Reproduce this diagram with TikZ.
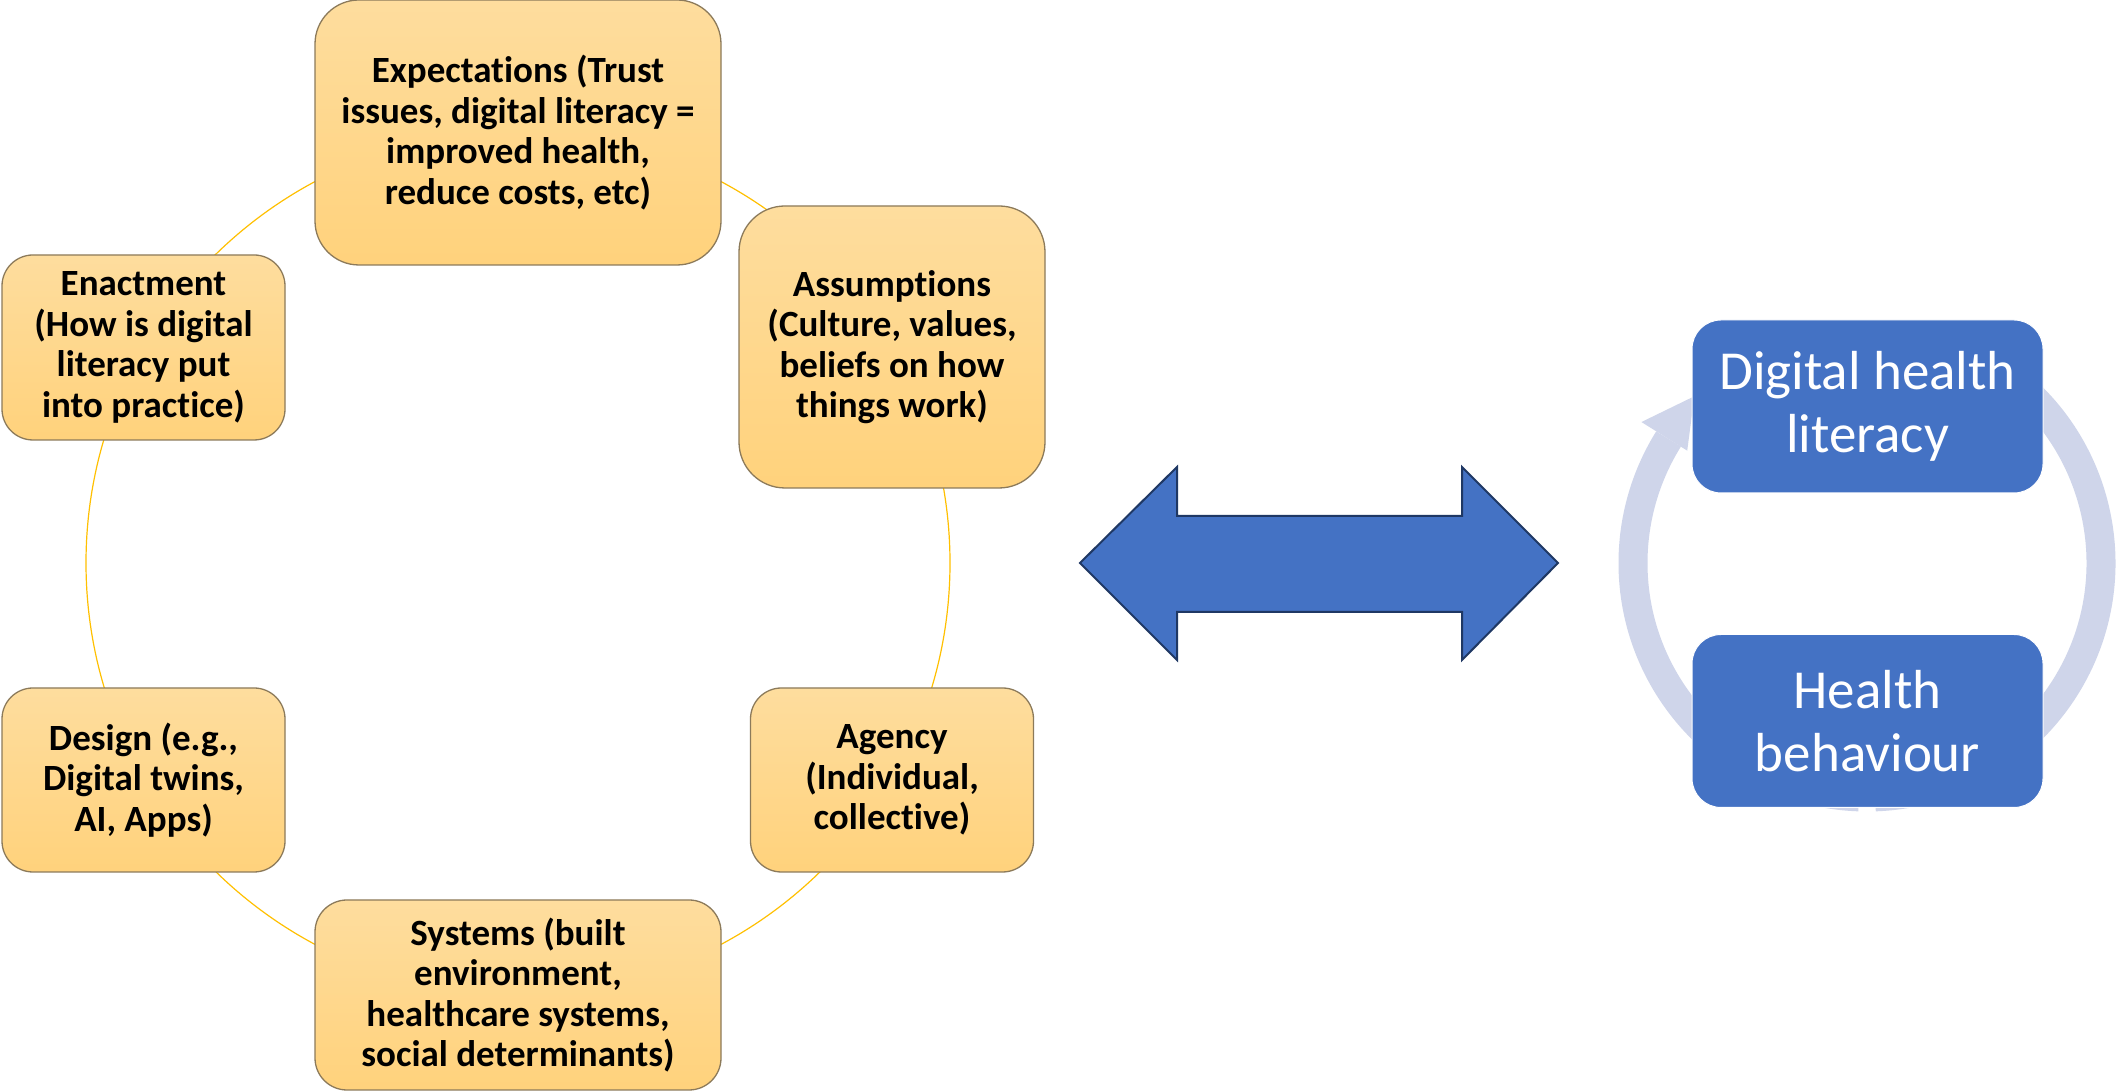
\documentclass[tikz,border=0pt]{standalone}
\usepackage{fontspec}
\setmainfont{Carlito}[Ligatures=NoCommon]
\begin{document}
\begin{tikzpicture}[x=1pt,y=1pt,
  ybox/.style={draw=boxline, line width=1.3pt, top color=ytop, bottom color=ybot,
    align=center, inner sep=0pt, font=\fontsize{37}{40.5}\selectfont\bfseries, text=black},
  bbox/.style={draw=white, line width=1pt, fill=bfill, align=center, inner sep=0pt,
    minimum width=351pt, minimum height=173pt, rounded corners=29pt,
    font=\fontsize{55}{63}\selectfont, text=white},
  ring/.style={draw=ringc, line width=29pt}
]
\definecolor{ytop}{HTML}{FEDD9E}
\definecolor{ybot}{HTML}{FFD27C}
\definecolor{boxline}{HTML}{8C7A5A}
\definecolor{circc}{HTML}{FFC000}
\definecolor{bfill}{HTML}{4472C4}
\definecolor{bline}{HTML}{1F3864}
\definecolor{ringc}{HTML}{CFD5EA}
\useasboundingbox (0,0) rectangle (2118,1091);
\fill[white] (0,0) rectangle (2118,1091);

% left cycle ring
\coordinate (cc) at (518,528);
\draw[circc, line width=1.2pt] (cc) circle[radius=432pt];

\node[ybox, minimum width=406pt, minimum height=265pt, rounded corners=44pt] (exp) at (518,958.5)
  {Expectations (Trust\\issues, digital literacy =\\improved health,\\reduce costs, etc)};
\node[ybox, minimum width=306pt, minimum height=282pt, rounded corners=46pt] (ass) at (892,744)
  {Assumptions\\(Culture, values,\\beliefs on how\\things work)};
\node[ybox, minimum width=283pt, minimum height=185pt, rounded corners=31pt] (ena) at (143.5,743.5)
  {Enactment\\(How is digital\\literacy put\\into practice)};
\node[ybox, minimum width=283pt, minimum height=184pt, rounded corners=31pt] (des) at (143.5,311)
  {Design (e.g.,\\Digital twins,\\AI, Apps)};
\node[ybox, minimum width=283pt, minimum height=184pt, rounded corners=31pt] (age) at (892,311)
  {Agency\\(Individual,\\collective)};
\node[ybox, minimum width=406pt, minimum height=190pt, rounded corners=32pt] (sys) at (518,96)
  {Systems (built\\environment,\\healthcare systems,\\social determinants)};

% double arrow
\draw[fill=bfill, draw=bline, line width=2pt, line join=miter]
  (1080,528) -- (1177,624) -- (1177,575) -- (1462,575) -- (1462,624) -- (1558,528)
  -- (1462,431) -- (1462,479) -- (1177,479) -- (1177,431) -- cycle;

% right cycle
\coordinate (rc) at (1867,528);
\draw[ring] ([shift={(55:234pt)}]rc) arc[start angle=55, end angle=-88, radius=234pt];
\draw[ring] ([shift={(268:234pt)}]rc) arc[start angle=268, end angle=148, radius=234pt];
\fill[ringc] ([shift={(148:266pt)}]rc) -- ([shift={(148:212pt)}]rc) -- ([shift={(136:240pt)}]rc) -- cycle;

\node[bbox] (dhl) at (1867.5,684.5) {Digital health\\literacy};
\node[bbox] (hb) at (1867.5,370) {Health\\behaviour};
\end{tikzpicture}
\end{document}
